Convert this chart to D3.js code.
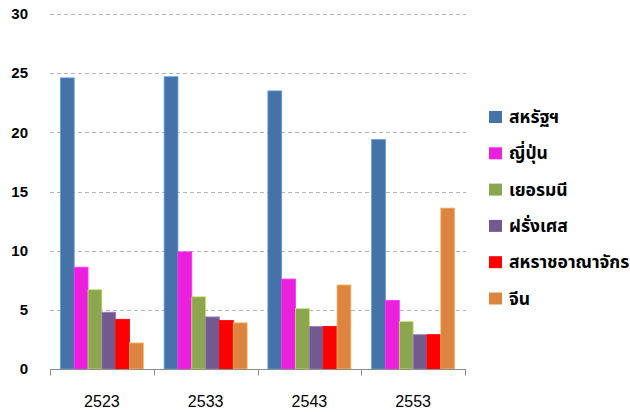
<!DOCTYPE html>
<html>
<head>
<meta charset="utf-8">
<script src="https://d3js.org/d3.v7.min.js"></script>
<style>
  body { margin: 0; background: #fff; }
  .ytick text { font-family: "Liberation Sans", Arial, sans-serif; font-weight: bold; font-size: 15px; fill: #000; }
  .xtick text { font-family: "Liberation Sans", Arial, sans-serif; font-size: 16px; fill: #000; }
  .legend text { font-family: Tahoma, "Noto Sans Thai", "DejaVu Sans", sans-serif; font-weight: bold; font-size: 17.5px; fill: #000; }
</style>
</head>
<body>
<svg id="chart"></svg>
<script>
// data
var years = ["2523", "2533", "2543", "2553"];
var countries = ["สหรัฐฯ", "ญี่ปุ่น", "เยอรมนี", "ฝรั่งเศส", "สหราชอาณาจักร", "จีน"];
var usa     = [24.6, 24.7, 23.5, 19.4];
var japan   = [8.6, 9.9, 7.6, 5.8];
var germany = [6.7, 6.1, 5.1, 4.0];
var france  = [4.8, 4.4, 3.6, 2.9];
var uk      = [4.2, 4.1, 3.6, 2.9];
var china   = [2.2, 3.9, 7.1, 13.6];
var yTicks  = [0, 5, 10, 15, 20, 25, 30];

var series = [usa, japan, germany, france, uk, china];
var colors = ["#4673a7", "#ea20dd", "#8ba64f", "#725a8f", "#ff0000", "#dc8440"];

var width = 630, height = 412;
var plotLeft = 50, plotRight = 465, plotTop = 14, plotBottom = 369;

var svg = d3.select("#chart").attr("width", width).attr("height", height);

var x0 = d3.scaleBand().domain(years).range([plotLeft, plotRight]).paddingInner(0.2).paddingOuter(0.1);
var x1 = d3.scaleBand().domain(d3.range(countries.length)).range([0, x0.bandwidth()]);
var y = d3.scaleLinear().domain([0, 30]).range([plotBottom, plotTop]);

// gridlines
svg.append("g")
  .selectAll("line")
  .data(yTicks.filter(function (d) { return d > 0; }))
  .enter().append("line")
  .attr("x1", plotLeft).attr("x2", plotRight + 1)
  .attr("y1", function (d) { return Math.round(y(d)) + 0.5; })
  .attr("y2", function (d) { return Math.round(y(d)) + 0.5; })
  .attr("stroke", "#b4b4b4")
  .attr("stroke-width", 1)
  .attr("stroke-dasharray", "4,3");

// bars
series.forEach(function (vals, i) {
  svg.append("g")
    .selectAll("rect")
    .data(vals)
    .enter().append("rect")
    .attr("x", function (d, j) { return x0(years[j]) + x1(i); })
    .attr("y", function (d) { return y(d); })
    .attr("width", x1.bandwidth())
    .attr("height", function (d) { return plotBottom - y(d); })
    .attr("fill", colors[i])
    .attr("stroke", d3.color(colors[i]).brighter(0.9))
    .attr("stroke-width", 0.8);
});

// y tick labels
var yAxis = d3.axisLeft(y).tickValues(yTicks).tickSize(0).tickPadding(0);
svg.append("g")
  .attr("class", "ytick")
  .attr("transform", "translate(28,0)")
  .call(yAxis)
  .call(function (g) { g.select(".domain").remove(); });

// x axis
var xAxis = d3.axisBottom(x0).tickSize(0).tickPadding(26);
var xg = svg.append("g")
  .attr("class", "xtick")
  .attr("transform", "translate(0," + (plotBottom + 0.5) + ")")
  .call(xAxis);
xg.select(".domain").remove();
xg.append("line")
  .attr("x1", plotLeft).attr("x2", plotRight + 1)
  .attr("stroke", "#8c8c8c").attr("stroke-width", 1);
var bounds = years.map(function (d) { return x0(d) - x0.step() * 0.1; }).concat([plotRight]);
xg.selectAll(".bound")
  .data(bounds)
  .enter().append("line")
  .attr("class", "bound")
  .attr("x1", function (d) { return Math.round(d) + 0.5; })
  .attr("x2", function (d) { return Math.round(d) + 0.5; })
  .attr("y1", 0).attr("y2", 6)
  .attr("stroke", "#8c8c8c");

// legend
var legend = svg.append("g").attr("class", "legend")
  .selectAll("g")
  .data(countries)
  .enter().append("g")
  .attr("transform", function (d, i) { return "translate(489," + (117 + i * 36.3) + ")"; });
legend.append("rect")
  .attr("x", 0).attr("y", -6)
  .attr("width", 13).attr("height", 12)
  .attr("fill", function (d, i) { return colors[i]; });
legend.append("text")
  .attr("x", 20).attr("y", 0)
  .attr("dy", "0.35em")
  .text(function (d) { return d; });
</script>
</body>
</html>
